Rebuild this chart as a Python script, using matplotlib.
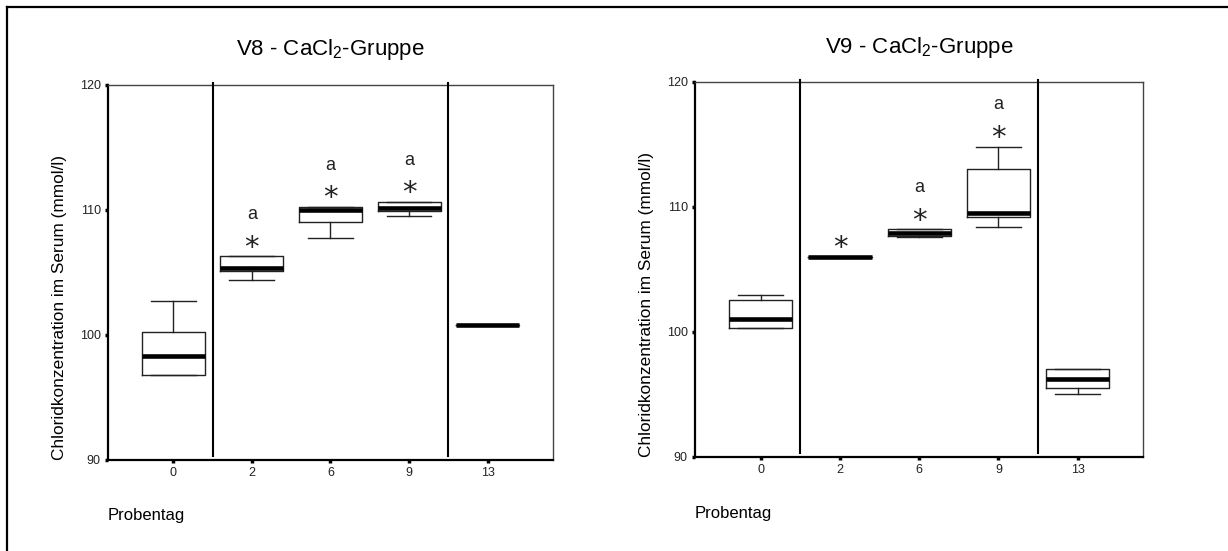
import numpy as np
import matplotlib
matplotlib.use("Agg")
import matplotlib.pyplot as plt
from matplotlib.lines import Line2D

plt.rcParams["font.family"] = ["Liberation Sans", "DejaVu Sans"]
plt.rcParams["mathtext.default"] = "regular"

# ── data ──────────────────────────────────────────────────────────────────────
days = ["0", "2", "6", "9", "13"]

v8_whislo = [96.8, 104.4, 107.7, 109.45, 100.8]
v8_q1     = [96.8, 105.1, 109.0, 109.9, 100.8]
v8_med    = [98.25, 105.3, 110.0, 110.15, 100.8]
v8_q3     = [100.2, 106.25, 110.2, 110.6, 100.8]
v8_whishi = [102.7, 106.25, 110.2, 110.6, 100.8]
v8_star   = [False, True, True, True, False]
v8_letter = ["", "a", "a", "a", ""]

v9_whislo = [100.35, 106.0, 107.6, 108.4, 95.0]
v9_q1     = [100.35, 106.0, 107.7, 109.2, 95.5]
v9_med    = [101.05, 106.0, 107.95, 109.5, 96.2]
v9_q3     = [102.55, 106.0, 108.2, 113.05, 97.0]
v9_whishi = [102.95, 106.0, 108.2, 114.8, 97.0]
v9_star   = [False, True, True, True, False]
v9_letter = ["", "", "a", "a", ""]

yticks = [90, 100, 110, 120]
separators = [1.5, 4.5]


def panel(ax, title, whislo, q1, med, q3, whishi, star, letter):
    stats = [dict(whislo=a, q1=b, med=c, q3=d, whishi=e)
             for a, b, c, d, e in zip(whislo, q1, med, q3, whishi)]
    pos = np.arange(1, len(stats) + 1)
    ax.bxp(stats, positions=pos, widths=0.8, capwidths=0.57, showfliers=False,
           boxprops=dict(color="#222222", linewidth=1.0),
           whiskerprops=dict(color="#222222", linewidth=1.0),
           capprops=dict(color="#222222", linewidth=1.0),
           medianprops=dict(color="black", linewidth=3.3, solid_capstyle="butt"))

    # significance marks above the upper whisker
    for p, s, l, top in zip(pos, star, letter, whishi):
        if s:
            ax.text(p, top + 0.05, "*", ha="center", va="baseline",
                    fontsize=21, color="#222222", family="DejaVu Sans")
        if l:
            ax.text(p, top + 3.0, l, ha="center", va="baseline",
                    fontsize=13, color="#222222")

    for x in separators:
        ax.axvline(x, ymin=0.01, ymax=1.005, color="black", linewidth=1.5,
                   clip_on=False, zorder=5)

    ax.set_xlim(0.17, 5.83)
    ax.set_ylim(90, 120)
    ax.set_xticks(pos)
    ax.set_xticklabels(days)
    ax.set_yticks(yticks)
    ax.tick_params(direction="out", length=2.2, width=2.5, labelsize=9,
                   labelcolor="#222222", pad=3)
    for side in ["left", "bottom"]:
        ax.spines[side].set_linewidth(1.6)
        ax.spines[side].set_color("black")
    for side in ["top", "right"]:
        ax.spines[side].set_linewidth(1.0)
        ax.spines[side].set_color("#444444")
    ax.set_ylabel("Chloridkonzentration im Serum (mmol/l)", fontsize=12.4,
                  loc="bottom", labelpad=9)
    ax.set_title(title, fontsize=16, pad=21)
    ax.text(0.0, -0.15, "Probentag", transform=ax.transAxes, ha="left",
            va="center", fontsize=12)


fig = plt.figure(figsize=(12.28, 5.51), dpi=100)
ax1 = fig.add_axes([0.0879, 0.166, 0.3624, 0.6806])
ax2 = fig.add_axes([0.566, 0.1706, 0.3651, 0.6806])

panel(ax1, "V8 - CaCl$_2$-Gruppe", v8_whislo, v8_q1, v8_med, v8_q3,
      v8_whishi, v8_star, v8_letter)
panel(ax2, "V9 - CaCl$_2$-Gruppe", v9_whislo, v9_q1, v9_med, v9_q3,
      v9_whishi, v9_star, v9_letter)

# outer frame (left and top edges visible in the reference)
fig.add_artist(Line2D([7 / 1228, 7 / 1228], [0, 1 - 7 / 551],
                      transform=fig.transFigure, color="black", linewidth=1.6))
fig.add_artist(Line2D([7 / 1228, 1], [1 - 7 / 551, 1 - 7 / 551],
                      transform=fig.transFigure, color="black", linewidth=1.6))

fig.savefig("out.png", dpi=100)
